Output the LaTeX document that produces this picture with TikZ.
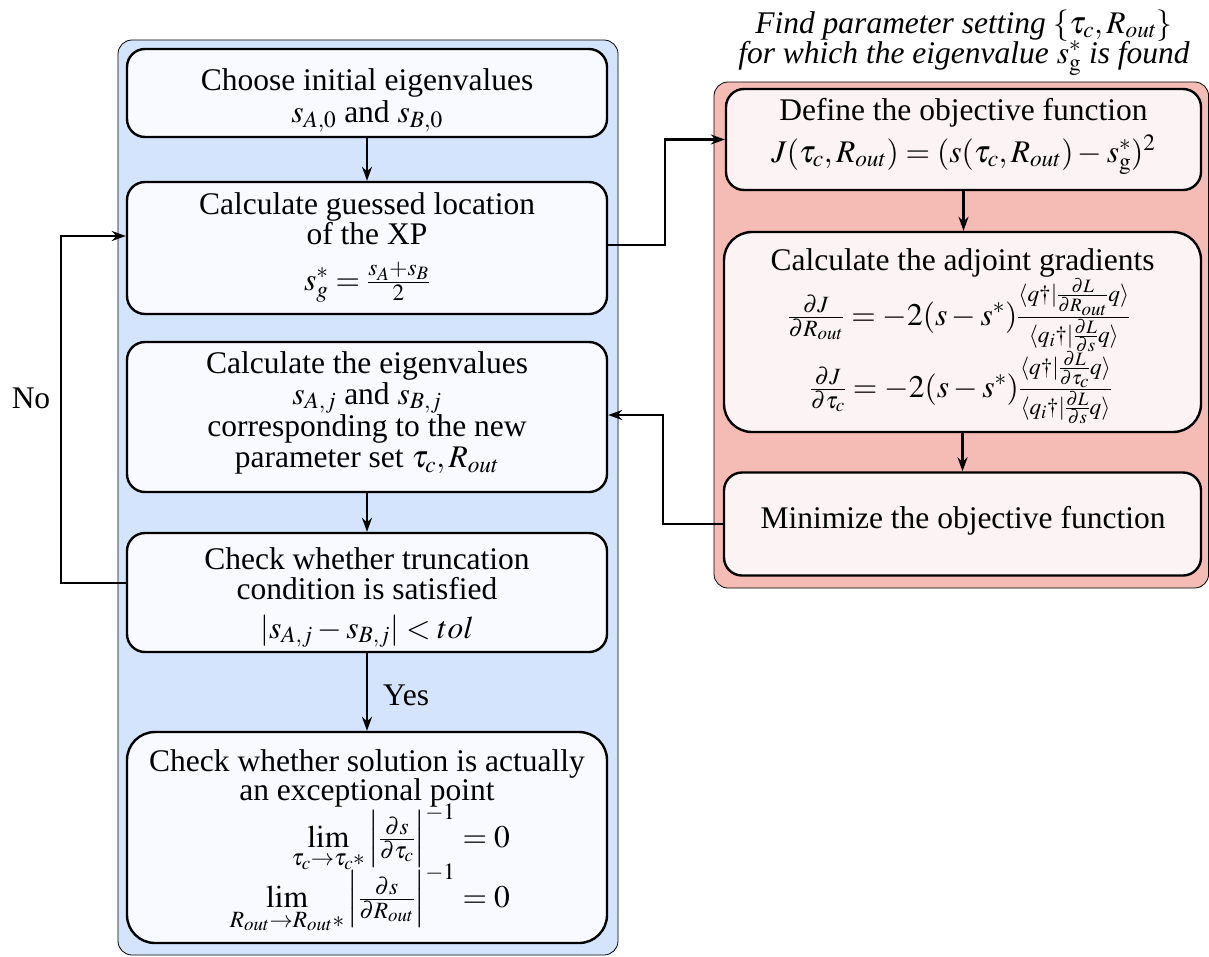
\documentclass[tikz,border=0pt]{standalone}
\usepackage{amsmath}
\usepackage{mathptmx}
\usepackage[no-math]{fontspec}
\setmainfont{Liberation Serif}
\usetikzlibrary{arrows.meta}
\definecolor{bluebg}{RGB}{212,228,252}
\definecolor{redbg}{RGB}{244,188,180}
\definecolor{boxblue}{RGB}{248,250,255}
\definecolor{boxred}{RGB}{252,244,244}
\tikzset{
  box/.style={draw, line width=2.4pt, rounded corners=18pt, fill=boxblue, inner sep=0pt, minimum width=480pt, minimum height=#1},
  rbox/.style={box=#1, fill=boxred, minimum width=477pt},
  txt/.style={font=\fontsize{31.5}{#1}\selectfont, align=center, inner sep=0pt},
  txt/.default=31pt,
  arr/.style={-{Stealth[length=14pt,width=10pt]}, line width=2.1pt},
  container/.style={draw, line width=0.8pt, rounded corners=14pt}
}
\begin{document}
\begin{tikzpicture}[x=1pt,y=-1pt,font=\fontsize{31.5}{31}\selectfont]
\useasboundingbox (0,0) rectangle (1209,956);
\draw[container, fill=bluebg] (118,40) rectangle (618,955);
\draw[container, fill=redbg] (714,82) rectangle (1208.6,588);

% left column
\node[box=88pt] (b1) at (367,93) {};
\node[txt=32pt, anchor=north] (b1t) at (367,68.5) {Choose initial eigenvalues\\ $s_{A,0}$ and $s_{B,0}$};

\node[box=132pt] (b2) at (367,248) {};
\node[txt=30pt, anchor=north] (b2t) at (367,192) {Calculate guessed location\\ of the XP};
\node[txt, anchor=base] (b2m) at (367,290) {$s_g^* = \frac{s_A+s_B}{2}$};

\node[box=150pt] (b3) at (367,417) {};
\node[txt=31pt, anchor=north] (b3t) at (367,351) {Calculate the eigenvalues\\ $s_{A,j}$ and $s_{B,j}$\\ corresponding to the new\\ parameter set $\tau_c, R_{out}$};

\node[box=119pt] (b4) at (367,592.5) {};
\node[txt=30pt, anchor=north] (b4t) at (367,547) {Check whether truncation\\ condition is satisfied};
\node[txt, anchor=base] (b4m) at (367,638) {$|s_{A,j}-s_{B,j}|<tol$};

\node[box=211pt, rounded corners=28pt] (b5) at (367,837.5) {};
\node[txt=28pt, anchor=north] (b5t) at (367,749) {Check whether solution is actually\\ an exceptional point};
\node[txt, anchor=base east] (b5m1) at (510,847) {$\displaystyle\lim_{\tau_c\to\tau_c*}\left|\tfrac{\partial s}{\partial\tau_c}\right|^{-1}=0$};
\node[txt, anchor=base east] (b5m2) at (510,907) {$\displaystyle\lim_{R_{out}\to R_{out}*}\left|\tfrac{\partial s}{\partial R_{out}}\right|^{-1}=0$};

% right column
\node[txt, font=\fontsize{31.5}{31}\selectfont\itshape, anchor=base] (title1) at (964,33) {Find parameter setting $\{\tau_c, R_{out}\}$};
\node[txt, font=\fontsize{31.5}{31}\selectfont\itshape, anchor=base] (title2) at (964,63) {for which the eigenvalue $s_{\mathrm{g}}^*$ is found};

\node[rbox=101pt, minimum width=475pt] (r1) at (963.5,139.5) {};
\node[txt, anchor=base] (r1t) at (963.5,120) {Define the objective function};
\node[txt, anchor=base] (r1m) at (963.5,162) {$J(\tau_c,R_{out}) = (s(\tau_c,R_{out})-s_{\mathrm{g}}^*)^2$};

\node[rbox=200pt, rounded corners=28pt] (r2) at (962.5,332) {};
\node[txt, anchor=base] (r2t) at (962.5,270) {Calculate the adjoint gradients};
\node[txt, anchor=base] (r2m1) at (959,325) {$\frac{\partial J}{\partial R_{out}} = -2(s-s^*)\frac{\langle q\dagger|\frac{\partial L}{\partial R_{out}}q\rangle}{\langle q_i\dagger|\frac{\partial L}{\partial s}q\rangle}$};
\node[txt, anchor=base] (r2m2) at (961,397) {$\frac{\partial J}{\partial \tau_c} = -2(s-s^*)\frac{\langle q\dagger|\frac{\partial L}{\partial \tau_c}q\rangle}{\langle q_i\dagger|\frac{\partial L}{\partial s}q\rangle}$};

\node[rbox=103pt] (r3) at (962.5,524) {};
\node[txt, anchor=base] (r3t) at (963,528) {Minimize the objective function};

% connectors
\draw[arr] (b1.south) -- (b2.north);
\draw[arr] (b3.south) -- (b4.north);
\draw[arr] (b4.south) -- (b5.north);
\node[txt, anchor=base west] (yes) at (383,705) {Yes};
\draw[arr] ([yshift=9.5pt]b4.west) -| (61,415) |- ([yshift=12pt]b2.west);
\node[txt, anchor=base] (no) at (31,408) {No};
\draw[arr] ([yshift=3pt]b2.east) -| (665,190) |- (r1.west);
\draw[arr] (r1.south) -- (r1.south|-r2.north);
\draw[arr] (r2.south) -- (r2.south|-r3.north);
\draw[arr] (r3.west) -| (663,470) |- ([yshift=2pt]b3.east);
\end{tikzpicture}
\end{document}
